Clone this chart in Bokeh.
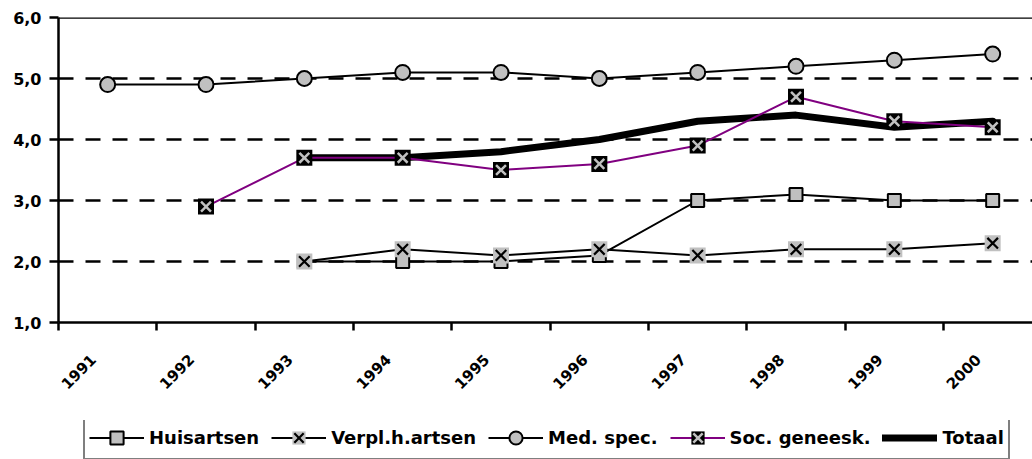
import math
from bokeh.plotting import figure
from bokeh.layouts import column
from bokeh.models import Range1d, FixedTicker, Span, Legend, LegendItem
from bokeh.embed import file_html
from bokeh.resources import INLINE

NaN = float("nan")

years = ["1991", "1992", "1993", "1994", "1995", "1996", "1997", "1998", "1999", "2000"]
huisartsen = [NaN, NaN, 2.0, 2.0, 2.0, 2.1, 3.0, 3.1, 3.0, 3.0]
verpl_h_artsen = [NaN, NaN, 2.0, 2.2, 2.1, 2.2, 2.1, 2.2, 2.2, 2.3]
med_spec = [4.9, 4.9, 5.0, 5.1, 5.1, 5.0, 5.1, 5.2, 5.3, 5.4]
soc_geneesk = [NaN, 2.9, 3.7, 3.7, 3.5, 3.6, 3.9, 4.7, 4.3, 4.2]
totaal = [NaN, NaN, 3.7, 3.7, 3.8, 4.0, 4.3, 4.4, 4.2, 4.3]
y_ticks = [1, 2, 3, 4, 5, 6]
y_tick_labels = ["1,0", "2,0", "3,0", "4,0", "5,0", "6,0"]
grid_values = [2, 3, 4, 5]

GRAY = "#C0C0C0"
PURPLE = "#800080"
FONT = "DejaVu Sans"

xs = [i + 0.5 for i in range(len(years))]
label_pos = [x - 0.15 for x in xs]


def add_series(fig):
    r = {}
    r["tot"] = [fig.line(xs, totaal, line_color="black", line_width=7, line_cap="round", line_join="round")]
    r["hui"] = [
        fig.line(xs, huisartsen, line_color="black", line_width=2),
        fig.scatter(xs, huisartsen, marker="square", size=13, fill_color=GRAY, line_color="black", line_width=2),
    ]
    r["ver"] = [
        fig.line(xs, verpl_h_artsen, line_color="black", line_width=2),
        fig.scatter(xs, verpl_h_artsen, marker="square", size=16, fill_color=GRAY, line_color=None),
        fig.scatter(xs, verpl_h_artsen, marker="x", size=15, line_color="black", line_width=2.2),
    ]
    r["med"] = [
        fig.line(xs, med_spec, line_color="black", line_width=2),
        fig.scatter(xs, med_spec, marker="circle", size=15, fill_color=GRAY, line_color="black", line_width=2),
    ]
    r["soc"] = [
        fig.line(xs, soc_geneesk, line_color=PURPLE, line_width=2),
        fig.scatter(xs, soc_geneesk, marker="square", size=16, fill_color="black", line_color=None),
        fig.scatter(xs, soc_geneesk, marker="x", size=14, line_color=GRAY, line_width=2.5),
    ]
    return r


# ---------- main chart ----------
p = figure(width=1032, height=420, output_backend="svg", toolbar_location=None,
           x_range=Range1d(0, 9.905), y_range=Range1d(1, 6),
           min_border_left=58, min_border_top=17, min_border_right=0, min_border_bottom=98)
p.outline_line_color = None
p.background_fill_color = "white"
p.border_fill_color = "white"

p.xgrid.visible = False
p.ygrid.ticker = FixedTicker(ticks=grid_values)
p.ygrid.grid_line_color = "black"
p.ygrid.grid_line_width = 2.5
p.ygrid.grid_line_dash = "15 12"
p.add_layout(Span(location=6, dimension="width", line_color="black", line_width=2.5))

for ax in (p.xaxis[0], p.yaxis[0]):
    ax.axis_line_color = "black"
    ax.axis_line_width = 2.5
    ax.major_label_text_font = FONT
    ax.major_label_text_font_style = "bold"
    ax.major_label_text_color = "black"

p.xaxis.major_label_text_font_size = "15px"
p.xaxis.ticker = FixedTicker(ticks=label_pos, minor_ticks=list(range(len(years) + 1)))
p.xaxis.major_label_overrides = {x: y for x, y in zip(label_pos, years)}
p.xaxis.major_label_orientation = math.pi / 4
p.xaxis.major_tick_line_color = None
p.xaxis.major_tick_out = 0
p.xaxis.major_tick_in = 0
p.xaxis.minor_tick_line_color = "black"
p.xaxis.minor_tick_line_width = 2.5
p.xaxis.minor_tick_out = 8
p.xaxis.minor_tick_in = 0
p.xaxis.major_label_standoff = 26

p.yaxis.major_label_text_font_size = "16px"
p.yaxis.ticker = FixedTicker(ticks=y_ticks)
p.yaxis.major_label_overrides = {t: l for t, l in zip(y_ticks, y_tick_labels)}
p.yaxis.major_tick_line_color = "black"
p.yaxis.major_tick_line_width = 2.5
p.yaxis.major_tick_out = 9
p.yaxis.major_tick_in = 0
p.yaxis.minor_tick_line_color = None
p.yaxis.major_label_standoff = 8

add_series(p)

# ---------- legend strip ----------
pl = figure(width=1032, height=39, output_backend="svg", toolbar_location=None,
            x_range=Range1d(0, 9.905), y_range=Range1d(1, 6),
            x_axis_location=None, y_axis_location=None, min_border=0)
pl.outline_line_color = None
pl.grid.visible = False
pl.background_fill_color = "white"
pl.border_fill_color = "white"
lr = add_series(pl)
for rs in lr.values():
    for rr in rs:
        rr.visible = False

legend = Legend(items=[
    LegendItem(label="Huisartsen", renderers=lr["hui"]),
    LegendItem(label="Verpl.h.artsen", renderers=lr["ver"]),
    LegendItem(label="Med. spec.", renderers=lr["med"]),
    LegendItem(label="Soc. geneesk.", renderers=lr["soc"]),
    LegendItem(label="Totaal", renderers=lr["tot"]),
])
legend.orientation = "horizontal"
legend.location = (25, -1)
legend.border_line_color = "black"
legend.border_line_width = 2
legend.background_fill_color = "white"
legend.background_fill_alpha = 1
legend.label_text_font = FONT
legend.label_text_font_style = "bold"
legend.label_text_font_size = "18px"
legend.label_text_color = "black"
legend.glyph_width = 55
legend.glyph_height = 33
legend.label_height = 33
legend.label_standoff = 5
legend.spacing = 12
legend.padding = 4
legend.margin = 0
pl.add_layout(legend)

layout = column(p, pl, spacing=0)
open("out.html", "w").write(file_html(layout, INLINE))
